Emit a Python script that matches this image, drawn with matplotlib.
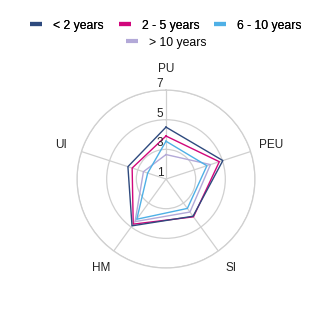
import numpy as np
import matplotlib
matplotlib.use("Agg")
import matplotlib.pyplot as plt
from matplotlib.lines import Line2D
import matplotlib.transforms as mtransforms

plt.rcParams['font.family'] = ['Liberation Sans', 'DejaVu Sans']

categories = ['PU', 'PEU', 'SI', 'HM', 'UI']
groups = ['< 2 years', '2 - 5 years', '6 - 10 years', '> 10 years']
lt2 = [4.5, 5.03, 4.1, 4.9, 3.7]
y2_5 = [3.9, 4.78, 4.15, 4.76, 3.4]
y6_10 = [3.55, 3.9, 3.45, 4.35, 2.3]
gt10 = [2.65, 4.15, 3.75, 4.55, 2.6]
r_ticks = [1, 3, 5, 7]

colors = ['#2e4a7e', '#d1077c', '#4fb0e6', '#b3a9d8']
series = [lt2, y2_5, y6_10, gt10]

fig = plt.figure(figsize=(3.32, 3.18), dpi=100)
ax = fig.add_axes([0.232, 0.157, 0.536, 0.56], projection='polar')
ax.set_theta_offset(np.pi / 2)
ax.set_theta_direction(-1)

angles = np.linspace(0, 2 * np.pi, len(categories), endpoint=False)
ang_closed = np.append(angles, angles[0])

# draw back to front
for vals, col in reversed(list(zip(series, colors))):
    v = np.append(vals, vals[0])
    ax.plot(ang_closed, v, color=col, lw=1.0)

ax.set_ylim(1, 7)
ax.set_yticks(r_ticks)
ax.set_yticklabels([])
ax.set_xticks(angles)
ax.set_xticklabels([])
ax.tick_params(length=0)
ax.grid(color='#d0d0d0', lw=0.9)
ax.spines['polar'].set_color('#d0d0d0')
ax.spines['polar'].set_linewidth(0.9)

# category labels
for a, lab in zip(angles, categories):
    ax.text(a, 8.45, lab, ha='center', va='center', fontsize=8.5, color='#222222', clip_on=False)

# radial tick labels above each ring
off = mtransforms.offset_copy(ax.transData, fig=fig, x=-2, y=0, units='points')
for t in r_ticks:
    ax.text(0, t, str(t), transform=off, ha='right', va='bottom', fontsize=8.5, color='#222222')

handles = [Line2D([0], [0], color=c, lw=3, solid_capstyle='butt') for c in colors]
leg_kw = dict(frameon=False, fontsize=8.8, handlelength=1.0, handletextpad=0.9,
              columnspacing=1.2, borderpad=0.2)
leg1 = fig.legend(handles[:3], groups[:3], loc='upper center',
                  bbox_to_anchor=(0.5, 0.965), ncol=3, **leg_kw)
fig.legend(handles[3:], groups[3:], loc='upper center',
           bbox_to_anchor=(0.5, 0.912), ncol=1, **leg_kw)
fig.add_artist(leg1)

fig.savefig('out.png', dpi=100)
